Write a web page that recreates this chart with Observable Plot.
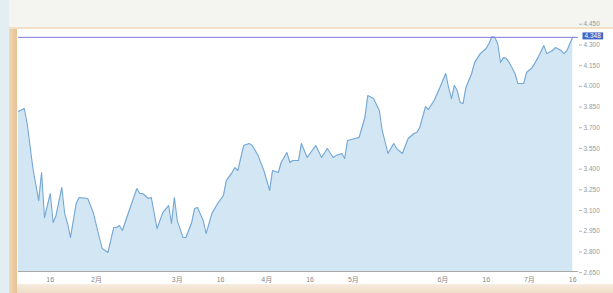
<!DOCTYPE html>
<html><head><meta charset="utf-8">
<script src="https://cdn.jsdelivr.net/npm/d3@7"></script>
<script src="https://cdn.jsdelivr.net/npm/@observablehq/plot@0.6"></script>
<style>
html,body{margin:0;padding:0;}
body{width:613px;height:293px;overflow:hidden;background:#f4f4f1;position:relative;}
#bgL{position:absolute;left:0;top:0;width:9px;height:293px;background:#e3eef2;}
#strip{position:absolute;left:9px;top:27px;width:8px;height:266px;background:linear-gradient(to right,#f1d8b6,#e6c194);}
#topline{position:absolute;left:9px;top:27px;width:604px;height:2px;background:#f3dfc6;}
#panel{position:absolute;left:17px;top:29px;width:596px;height:255px;background:#fff;}
#bottom{position:absolute;left:17px;top:284px;width:596px;height:9px;background:linear-gradient(to bottom,#f6ece0,#efdcc6);}
#chart{position:absolute;left:0;top:0;}
</style>
</head><body>
<div id="bgL"></div><div id="strip"></div><div id="topline"></div><div id="panel"></div><div id="bottom"></div>
<div id="chart"></div>
<script>
const dates = [
"2023-01-05","2023-01-07","2023-01-08","2023-01-10","2023-01-12","2023-01-13","2023-01-14","2023-01-16","2023-01-17","2023-01-18",
"2023-01-20","2023-01-21","2023-01-22","2023-01-23","2023-01-25","2023-01-26","2023-01-29","2023-01-31","2023-02-02","2023-02-03",
"2023-02-05","2023-02-07","2023-02-08","2023-02-09","2023-02-10","2023-02-12","2023-02-15","2023-02-16","2023-02-17","2023-02-19",
"2023-02-20","2023-02-22","2023-02-24","2023-02-26","2023-02-27","2023-02-28","2023-03-01","2023-03-03","2023-03-04","2023-03-06",
"2023-03-07","2023-03-08","2023-03-10","2023-03-11","2023-03-13","2023-03-15","2023-03-17","2023-03-18","2023-03-20","2023-03-21",
"2023-03-22","2023-03-24","2023-03-26","2023-03-27","2023-03-29","2023-03-31","2023-04-02","2023-04-03","2023-04-05","2023-04-06",
"2023-04-08","2023-04-09","2023-04-10","2023-04-12","2023-04-13","2023-04-15","2023-04-18","2023-04-20","2023-04-22","2023-04-24",
"2023-04-25","2023-04-27","2023-04-28","2023-04-29","2023-05-03","2023-05-05","2023-05-06","2023-05-08","2023-05-10","2023-05-11",
"2023-05-13","2023-05-15","2023-05-16","2023-05-18","2023-05-20","2023-05-22","2023-05-23","2023-05-24","2023-05-26","2023-05-27",
"2023-05-29","2023-05-31","2023-06-02","2023-06-03","2023-06-04","2023-06-05","2023-06-06","2023-06-07","2023-06-08","2023-06-09",
"2023-06-11","2023-06-12","2023-06-14","2023-06-16","2023-06-17","2023-06-18","2023-06-19","2023-06-20","2023-06-21","2023-06-22",
"2023-06-23","2023-06-24","2023-06-26","2023-06-27","2023-06-29","2023-06-30","2023-07-02","2023-07-04","2023-07-06","2023-07-07",
"2023-07-09","2023-07-10","2023-07-12","2023-07-13","2023-07-14","2023-07-16"
];
const yields = [
3.810,3.832,3.723,3.397,3.165,3.368,3.042,3.216,3.006,3.057,
3.260,3.071,2.999,2.897,3.144,3.187,3.180,3.071,2.897,2.818,
2.789,2.970,2.970,2.984,2.948,3.071,3.252,3.216,3.216,3.180,
3.187,2.962,3.078,3.129,2.999,3.187,3.020,2.897,2.897,3.006,
3.107,3.115,3.020,2.926,3.071,3.144,3.202,3.310,3.368,3.404,
3.383,3.564,3.578,3.564,3.491,3.383,3.238,3.383,3.368,3.441,
3.513,3.441,3.455,3.455,3.578,3.477,3.564,3.477,3.542,3.477,
3.491,3.506,3.470,3.600,3.622,3.767,3.926,3.904,3.817,3.673,
3.506,3.578,3.542,3.506,3.615,3.651,3.658,3.694,3.846,3.825,
3.890,3.984,4.086,3.984,3.904,3.999,3.962,3.875,3.868,3.984,
4.086,4.165,4.230,4.267,4.303,4.352,4.348,4.303,4.165,4.201,
4.194,4.165,4.086,4.013,4.013,4.093,4.129,4.201,4.288,4.230,
4.252,4.274,4.252,4.230,4.252,4.348
];
const yTicks = [4.45,4.30,4.15,4.00,3.85,3.70,3.55,3.40,3.25,3.10,2.95,2.80,2.65];
const xTickDates = ["2023-01-16","2023-02-01","2023-03-01","2023-03-16","2023-04-01","2023-04-16","2023-05-01","2023-06-01","2023-06-16","2023-07-01","2023-07-16"];
const xTickLabels = ["16","2月","3月","16","4月","16","5月","6月","16","7月","16"];

const data = dates.map((d, i) => ({date: new Date(d), value: yields[i]}));
const last = yields[yields.length - 1];
const baseline = 2.651;
const labelMap = new Map(xTickDates.map((d, i) => [new Date(d).getTime(), xTickLabels[i]]));
const font = "'Liberation Sans','Noto Sans CJK SC',sans-serif";

const chart = Plot.plot({
  width: 613, height: 293,
  marginLeft: 18, marginRight: 35, marginTop: 28, marginBottom: 22,
  style: {background: "transparent", fontFamily: font, fontSize: "7px", color: "#999", overflow: "visible"},
  x: {type: "utc", domain: [new Date("2023-01-05"), new Date("2023-07-18")]},
  y: {domain: [baseline, 4.412]},
  marks: [
    Plot.areaY(data, {x: "date", y1: baseline, y2: "value", fill: "#d2e7f3"}),
    Plot.lineY(data, {x: "date", y: "value", stroke: "#74a6d6", strokeWidth: 1.1}),
    Plot.ruleY([baseline], {stroke: "#a8a8a8", strokeWidth: 1}),
    Plot.ruleY([last], {stroke: "#8079dc", strokeWidth: 1}),
    Plot.axisY({anchor: "right", ticks: yTicks, tickFormat: d3.format(".3f"), tickSize: 3, tickPadding: 2, fill: "#999", stroke: "#b8b8b8", label: null, fontSize: 6.5, dy: 1}),
    Plot.axisX({ticks: xTickDates.map(d => new Date(d)), tickFormat: d => labelMap.get(d.getTime()), tickSize: 0, tickPadding: 6, fill: "#888", label: null, fontSize: 7}),
    Plot.text([last], {y: d => d, frameAnchor: "right", dx: 6, dy: -1, textAnchor: "start", text: d => d3.format(".3f")(d), fill: "#ffffff", fontSize: 6.5, className: "hl"})
  ]
});
document.getElementById("chart").appendChild(chart);
chart.querySelectorAll(".hl text").forEach(t => {
  const b = t.getBBox();
  const r = document.createElementNS("http://www.w3.org/2000/svg", "rect");
  r.setAttribute("x", b.x - 2); r.setAttribute("y", b.y);
  r.setAttribute("width", b.width + 4); r.setAttribute("height", b.height);
  r.setAttribute("fill", "#4366c6");
  const tr = t.getAttribute("transform");
  if (tr) r.setAttribute("transform", tr);
  t.parentNode.insertBefore(r, t);
});
</script>
</body></html>
